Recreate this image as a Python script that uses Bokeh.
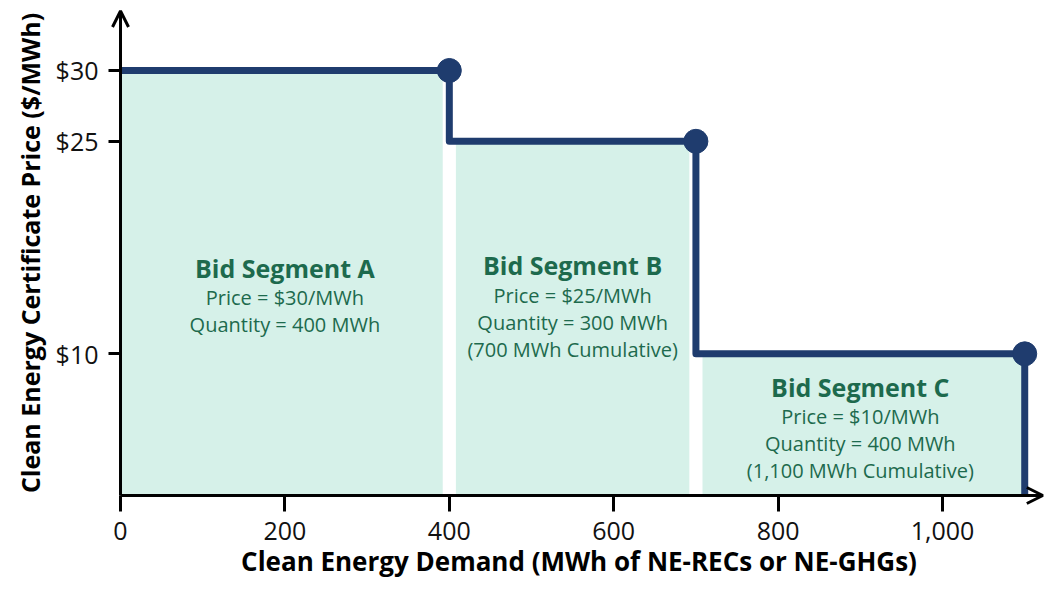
from bokeh.plotting import figure
from bokeh.models import Range1d, FixedTicker, Arrow, OpenHead
from bokeh.core.properties import value
from bokeh.embed import file_html
from bokeh.resources import INLINE

# ---- data ----
segments = ["A", "B", "C"]
prices = [30, 25, 10]
quantities = [400, 300, 400]
x_ticks = [0, 200, 400, 600, 800, 1000]
x_tick_labels = ["0", "200", "400", "600", "800", "1,000"]
y_ticks = [10, 25, 30]
y_tick_labels = ["$10", "$25", "$30"]

# derived
ends = []
tot = 0
for q in quantities:
    tot += q
    ends.append(tot)
starts = [e - q for e, q in zip(ends, quantities)]

FONT = "Open Sans"
NAVY = "#1f3c6e"
FILL = "#d6f1e9"
GREEN = "#1d6a4d"

p = figure(width=1047, height=582, x_range=Range1d(-12.17, 1127.7), y_range=Range1d(-0.706, 34.94),
           output_backend="svg", toolbar_location=None,
           min_border_left=110, min_border_bottom=77, min_border_top=0, min_border_right=0)
p.outline_line_color = None
p.grid.visible = False

# fills (small white gaps at interior boundaries)
gap = 8
fl = [s + (gap if i > 0 else 0) for i, s in enumerate(starts)]
fr = [e - (gap if i < len(ends) - 1 else 0) for i, e in enumerate(ends)]
p.quad(left=fl, right=fr, bottom=0, top=prices, fill_color=FILL, line_color=None)

# step line
xs = [0]
ys = [prices[0]]
for i, (e, pr) in enumerate(zip(ends, prices)):
    xs.append(e); ys.append(pr)
    nxt = prices[i + 1] if i + 1 < len(prices) else 0
    xs.append(e); ys.append(nxt)
p.line(xs, ys, line_color=NAVY, line_width=7, line_join="round")
p.scatter(ends, prices, size=24, fill_color=NAVY, line_color=NAVY)

# axes arrows
p.add_layout(Arrow(end=OpenHead(size=16, line_width=3, line_color="black"),
                   x_start=0, y_start=0, x_end=0, y_end=34.2, line_width=3, line_color="black"))
p.add_layout(Arrow(end=OpenHead(size=16, line_width=3, line_color="black"),
                   x_start=0, y_start=0, x_end=1122, y_end=0, line_width=3, line_color="black"))

for ax in (p.xaxis[0], p.yaxis[0]):
    ax.axis_line_color = None
    ax.major_tick_line_color = "black"
    ax.major_tick_line_width = 3
    ax.minor_tick_line_color = None
    ax.major_tick_in = 10
    ax.major_label_text_font = FONT
    ax.major_label_text_font_size = "25px"
    ax.major_label_text_color = "#111111"
    ax.axis_label_text_font = FONT
    ax.axis_label_text_font_style = "bold"
    ax.axis_label_text_color = "black"

p.xaxis.ticker = FixedTicker(ticks=x_ticks)
p.xaxis.major_label_overrides = {t: l for t, l in zip(x_ticks, x_tick_labels)}
p.xaxis.major_tick_out = 6
p.xaxis.major_label_standoff = 10
p.xaxis.major_label_text_line_height = 1.0
p.xaxis.axis_label = "Clean Energy Demand (MWh of NE-RECs or NE-GHGs)"
p.xaxis.axis_label_standoff = 0
p.xaxis.axis_label_text_font_size = "26px"
p.xaxis.axis_label_text_line_height = 1.0

p.yaxis.ticker = FixedTicker(ticks=y_ticks)
p.yaxis.major_label_overrides = {t: l for t, l in zip(y_ticks, y_tick_labels)}
p.yaxis.major_tick_out = 2
p.yaxis.major_label_standoff = 10
p.yaxis.axis_label = "Clean Energy Certificate Price ($/MWh)"
p.yaxis.axis_label_standoff = 6
p.yaxis.axis_label_text_font_size = "25px"

# labels
label_y = [16.09, 16.24, 7.69]
tx, ty, tt = [], [], []
bx, by, bt, bo = [], [], [], []
for i, seg in enumerate(segments):
    cx = (starts[i] + ends[i]) / 2
    tx.append(cx); ty.append(label_y[i]); tt.append(f"Bid Segment {seg}")
    lines = [f"Price = ${prices[i]}/MWh", f"Quantity = {quantities[i]} MWh"]
    if i > 0:
        lines.append(f"({ends[i]:,} MWh Cumulative)")
    for k, ln in enumerate(lines):
        bx.append(cx); by.append(label_y[i]); bt.append(ln); bo.append(30 + 27 * k)

p.text(x=tx, y=ty, text=tt, text_font=value(FONT), text_font_style="bold",
       text_font_size="25px", text_color=GREEN, text_align="center", text_baseline="middle")
p.text(x=bx, y=by, text=bt, y_offset=bo, text_font=value(FONT),
       text_font_size="20px", text_color=GREEN, text_align="center", text_baseline="middle")

open("out.html", "w").write(file_html(p, INLINE))
